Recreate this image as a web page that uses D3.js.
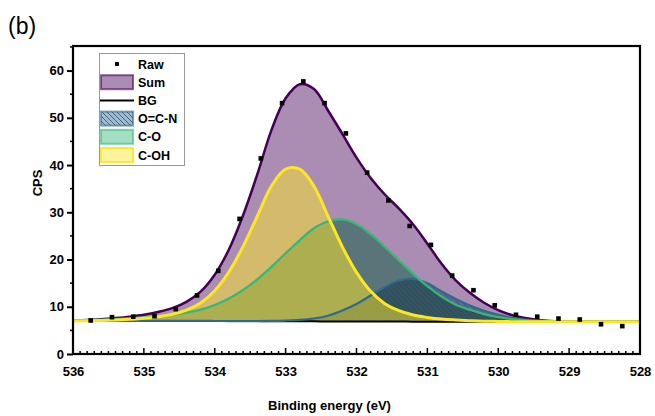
<!DOCTYPE html>
<html><head><meta charset="utf-8">
<script src="https://cdn.jsdelivr.net/npm/d3@7"></script>
<style>body{margin:0;background:#fff} svg text{font-family:"Liberation Sans",Arial,sans-serif}</style>
</head><body><svg id="c" width="655" height="416"></svg>
<script>
// ---- data ----
const energy = [536.0,535.8,535.6,535.4,535.2,535.0,534.8,534.6,534.4,534.2,534.0,533.8,533.6,533.4,533.2,533.0,532.8,532.6,532.4,532.2,532.0,531.8,531.6,531.4,531.2,531.0,530.8,530.6,530.4,530.2,530.0,529.8,529.6,529.4,529.2,529.0,528.8,528.6,528.4,528.2,528.0];
const bgCPS = [7.0,7.0,7.0,7.0,7.0,7.0,7.0,7.0,7.0,7.0,6.99,6.98,6.97,6.96,6.95,6.93,6.92,6.91,6.90,6.89,6.88,6.87,6.86,6.86,6.85,6.85,6.85,6.85,6.85,6.85,6.85,6.85,6.85,6.85,6.85,6.85,6.85,6.85,6.85,6.85,6.85];
// fitted intensities above background
const sumAboveBG = [0.1,0.2,0.35,0.6,0.9,1.3,1.9,2.7,4.05,6.2,9.8,15.15,22.4,31.05,40.45,47.2,50.2,49.2,44.6,39.7,34.7,30.4,26.9,23.9,20.55,16.5,12.25,8.75,6.1,4.0,2.45,1.35,0.7,0.3,0.1,0,0,0,0,0,0];
const ocnAboveBG = [0,0,0,0,0,0,0,0,0,0,0,0,0,0,0.05,0.15,0.3,0.6,1.2,2.3,3.7,5.5,7.3,8.7,9.05,8.1,6.4,4.8,3.4,2.3,1.45,0.8,0.4,0.15,0.05,0,0,0,0,0,0];
const coAboveBG = [0.1,0.15,0.25,0.4,0.55,0.75,1.0,1.3,1.75,2.4,3.4,4.75,6.6,8.85,11.5,14.4,17.2,19.7,21.2,21.6,20.6,18.5,15.8,12.9,10.1,7.5,5.3,3.6,2.5,1.6,0.95,0.55,0.3,0.15,0.05,0,0,0,0,0,0];
const cohAboveBG = [0,0.05,0.1,0.2,0.35,0.55,0.9,1.4,2.3,3.8,6.4,10.4,15.8,22.2,28.6,32.2,32.2,28.6,22.2,15.8,10.4,6.4,3.8,2.3,1.4,0.9,0.55,0.35,0.2,0.1,0.05,0,0,0,0,0,0,0,0,0,0];
const rawEnergy = [535.75,535.45,535.15,534.85,534.55,534.25,533.95,533.65,533.35,533.05,532.75,532.45,532.15,531.85,531.55,531.25,530.95,530.65,530.35,530.05,529.75,529.45,529.15,528.85,528.55,528.25];
const rawCPS = [7.1,7.8,7.9,8.0,9.5,12.4,17.6,28.6,41.4,53.1,57.7,53.1,46.7,38.4,32.5,27.1,23.1,16.6,13.5,10.3,8.3,7.9,7.5,7.3,6.3,5.9];
const xTicks = [536,535,534,533,532,531,530,529,528];
const yTicks = [0,10,20,30,40,50,60];
const legendLabels = ["Raw","Sum","BG","O=C-N","C-O","C-OH"];
const panelLabel = "(b)";
const xTitle = "Binding energy (eV)";
const yTitle = "CPS";

// ---- drawing ----
const svg = d3.select("#c");
const L = 73, R = 640, T = 46, B = 354;
const x = d3.scaleLinear().domain([536, 528]).range([L, R]);
const y = d3.scaleLinear().domain([0, 65.2]).range([B, T]);

const col = {sum:"#440154", ocn:"#31688e", co:"#35b779", coh:"#fde725"};
const alpha = {sum:0.45, ocn:0.5, co:0.6, coh:0.5};
const defs = svg.append("defs");
defs.append("clipPath").attr("id","clip").append("rect").attr("x",L).attr("y",T).attr("width",R-L).attr("height",B-T);
const pat = defs.append("pattern").attr("id","hatch").attr("patternUnits","userSpaceOnUse").attr("width",5).attr("height",5);
pat.append("path").attr("d","M-1,4 L1,6 M0,0 L5,5 M4,-1 L6,1").attr("stroke","#2b5f85").attr("stroke-width",0.9);

const idx = d3.range(energy.length);
const crv = d3.curveCatmullRom.alpha(0.5);
const area = arr => d3.area().x(i => x(energy[i])).y0(i => y(bgCPS[i])).y1(i => y(bgCPS[i] + arr[i])).curve(crv);
const line = arr => d3.line().x(i => x(energy[i])).y(i => y(bgCPS[i] + arr[i])).curve(crv);

const g = svg.append("g").attr("clip-path","url(#clip)").style("isolation","isolate");
g.append("path").attr("d", area(sumAboveBG)(idx)).attr("fill", col.sum).attr("fill-opacity", alpha.sum);
g.append("path").attr("d", area(ocnAboveBG)(idx)).attr("fill", col.ocn).attr("fill-opacity", alpha.ocn).style("mix-blend-mode","multiply");
g.append("path").attr("d", area(ocnAboveBG)(idx)).attr("fill", "url(#hatch)").attr("opacity",0.8);
g.append("path").attr("d", area(coAboveBG)(idx)).attr("fill", col.co).attr("fill-opacity", alpha.co).style("mix-blend-mode","multiply");
g.append("path").attr("d", area(cohAboveBG)(idx)).attr("fill", col.coh).attr("fill-opacity", alpha.coh);

g.append("path").attr("d", line(sumAboveBG)(idx)).attr("fill","none").attr("stroke", col.sum).attr("stroke-width", 2.5);
g.append("path").attr("d", d3.line().x(i => x(energy[i])).y(i => y(bgCPS[i])).curve(crv)(idx)).attr("fill","none").attr("stroke","#000").attr("stroke-width",2);
g.append("path").attr("d", line(ocnAboveBG)(idx)).attr("fill","none").attr("stroke", col.ocn).attr("stroke-width", 2.2);
g.append("path").attr("d", line(coAboveBG)(idx)).attr("fill","none").attr("stroke", col.co).attr("stroke-width", 2.2);
g.append("path").attr("d", line(cohAboveBG)(idx)).attr("fill","none").attr("stroke", col.coh).attr("stroke-width", 3);

g.selectAll("rect.raw").data(d3.range(rawEnergy.length)).join("rect").attr("class","raw")
  .attr("x", i => x(rawEnergy[i]) - 2.3).attr("y", i => y(rawCPS[i]) - 2.3)
  .attr("width", 4.6).attr("height", 4.6).attr("fill", "#000");

// axes
const xAxis = d3.axisBottom(x).tickValues(xTicks).tickFormat(d3.format("d")).tickSize(0).tickPadding(13);
const xa = svg.append("g").attr("transform", `translate(0,${B})`).call(xAxis);
xa.select(".domain").remove();
xa.selectAll("text").attr("font-size", 13).attr("font-weight", "bold").attr("fill","#000");
const xMinor = d3.range(5280, 5361).map(v => v / 10);
svg.append("g").selectAll("line").data(xMinor).join("line")
  .attr("x1", d => x(d)).attr("x2", d => x(d))
  .attr("y1", B).attr("y2", d => Math.abs(d - Math.round(d)) < 1e-6 ? B - 6 : B - 3)
  .attr("stroke","#000").attr("stroke-width",1.5);

const yAxis = d3.axisLeft(y).tickValues(yTicks).tickFormat(d3.format("d")).tickSize(6).tickPadding(3);
const ya = svg.append("g").attr("transform", `translate(${L},0)`).call(yAxis);
ya.select(".domain").remove();
ya.selectAll("line").attr("stroke-width",2);
ya.selectAll("text").attr("font-size", 13).attr("font-weight", "bold").attr("fill","#000");
const yMinor = [5,15,25,35,45,55,65];
svg.append("g").selectAll("line").data(yMinor).join("line")
  .attr("x1", L).attr("x2", L - 3).attr("y1", d => y(d)).attr("y2", d => y(d))
  .attr("stroke","#000").attr("stroke-width",1.5);

svg.append("rect").attr("x", L).attr("y", T).attr("width", R - L).attr("height", B - T)
  .attr("fill","none").attr("stroke","#000").attr("stroke-width",2.2);

svg.append("text").attr("x", (L + R) / 2 - 27).attr("y", 410).attr("text-anchor","middle")
  .attr("font-size", 13).attr("font-weight","bold").text(xTitle);
svg.append("text").attr("transform", "translate(42,183) rotate(-90)").attr("text-anchor","middle")
  .attr("font-size", 13).attr("font-weight","bold").text(yTitle);
svg.append("text").attr("x", 8).attr("y", 34).attr("font-size", 23).text(panelLabel);

// legend
const lg = svg.append("g");
lg.append("rect").attr("x", 99.5).attr("y", 53.5).attr("width", 85).attr("height", 112)
  .attr("fill","#fff").attr("stroke","#999").attr("stroke-width",1);
const rowY = i => 64 + i * 18.2;
legendLabels.forEach((lab, i) => {
  const cy = rowY(i);
  if (lab === "Raw") {
    lg.append("rect").attr("x", 115).attr("y", cy - 2).attr("width", 4).attr("height", 4).attr("fill","#000");
  } else if (lab === "BG") {
    lg.append("line").attr("x1", 100).attr("x2", 134).attr("y1", cy).attr("y2", cy).attr("stroke","#000").attr("stroke-width",2);
  } else {
    const key = lab === "Sum" ? "sum" : lab === "O=C-N" ? "ocn" : lab === "C-O" ? "co" : "coh";
    const c = col[key];
    lg.append("rect").attr("x", 101).attr("y", cy - 7).attr("width", 32).attr("height", 14)
      .attr("fill", c).attr("fill-opacity", 0.45);
    if (lab === "O=C-N") lg.append("rect").attr("x", 101).attr("y", cy - 7).attr("width", 32).attr("height", 14).attr("fill","url(#hatch)");
    lg.append("rect").attr("x", 101).attr("y", cy - 7).attr("width", 32).attr("height", 14)
      .attr("fill","none").attr("stroke", c).attr("stroke-opacity", lab === "C-OH" ? 0.9 : 0.6).attr("stroke-width", 2);
  }
  lg.append("text").attr("x", 138).attr("y", cy + 4.5).attr("font-size", 12.5).attr("font-weight","bold").text(lab);
});
</script></body></html>
